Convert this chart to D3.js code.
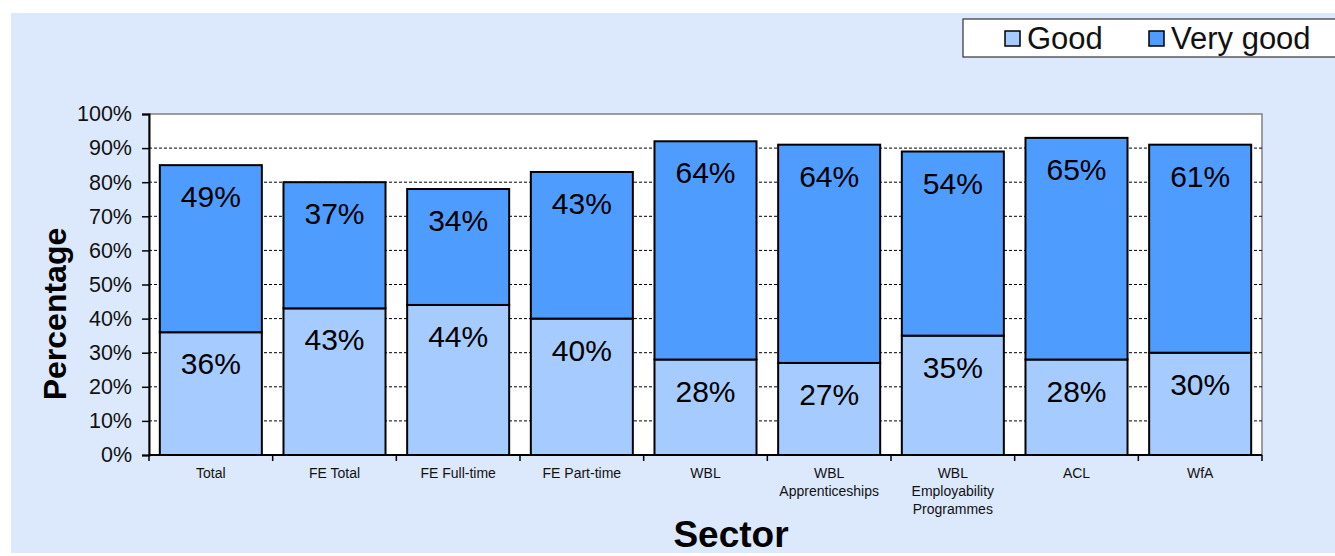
<!DOCTYPE html>
<html>
<head>
<meta charset="utf-8">
<script src="https://cdn.jsdelivr.net/npm/d3@7"></script>
<style>
    body { margin: 0; background: #fff; }
    text { font-family: "Liberation Sans", Arial, sans-serif; }
</style>
</head>
<body>
<div id="chart"></div>
<script>
// Chart data
const categories = ["Total", "FE Total", "FE Full-time", "FE Part-time", "WBL",
    "WBL Apprenticeships", "WBL Employability Programmes", "ACL", "WfA"];
const categoryLines = [["Total"], ["FE Total"], ["FE Full-time"], ["FE Part-time"], ["WBL"],
    ["WBL", "Apprenticeships"], ["WBL", "Employability", "Programmes"], ["ACL"], ["WfA"]];
const good = [36, 43, 44, 40, 28, 27, 35, 28, 30];
const veryGood = [49, 37, 34, 43, 64, 64, 54, 65, 61];
const yTicks = [0, 10, 20, 30, 40, 50, 60, 70, 80, 90, 100];
const seriesNames = ["Good", "Very good"];
const seriesColors = ["#a5cbff", "#4f9cff"];

const W = 1335, H = 556;
const plot = { left: 149, right: 1262, top: 114, bottom: 455 };

const svg = d3.select("#chart").append("svg")
    .attr("width", W)
    .attr("height", H);

// Background panel
svg.append("rect")
    .attr("x", 11).attr("y", 13)
    .attr("width", W - 11).attr("height", H - 16)
    .attr("fill", "#dce9fc");

const x = d3.scaleBand()
    .domain(categories)
    .range([plot.left, plot.right])
    .paddingInner(0.175)
    .paddingOuter(0.0875);

const y = d3.scaleLinear()
    .domain([0, 100])
    .range([plot.bottom, plot.top]);

// Plot area
svg.append("rect")
    .attr("x", plot.left).attr("y", plot.top)
    .attr("width", plot.right - plot.left)
    .attr("height", plot.bottom - plot.top)
    .attr("fill", "#fff")
    .attr("stroke", "#808080")
    .attr("stroke-width", 1.5);

// Gridlines
svg.append("g")
    .selectAll("line")
    .data(yTicks.filter(t => t > 0 && t < 100))
    .join("line")
    .attr("x1", plot.left).attr("x2", plot.right)
    .attr("y1", d => y(d)).attr("y2", d => y(d))
    .attr("stroke", "#000")
    .attr("stroke-width", 1)
    .attr("stroke-dasharray", "3,2");

// Stacked bars
const stackData = categories.map((c, i) => ({ cat: c, Good: good[i], "Very good": veryGood[i] }));
const stacked = d3.stack().keys(seriesNames)(stackData);

const layers = svg.append("g")
    .selectAll("g")
    .data(stacked)
    .join("g")
    .attr("fill", (d, i) => seriesColors[i]);

layers.selectAll("rect")
    .data(d => d)
    .join("rect")
    .attr("x", d => x(d.data.cat))
    .attr("y", d => y(d[1]))
    .attr("width", x.bandwidth())
    .attr("height", d => y(d[0]) - y(d[1]))
    .attr("stroke", "#000")
    .attr("stroke-width", 2);

// Value labels
layers.selectAll("text")
    .data(d => d)
    .join("text")
    .attr("x", d => x(d.data.cat) + x.bandwidth() / 2)
    .attr("y", d => y(d[1]) + 42)
    .attr("text-anchor", "middle")
    .attr("font-size", 30)
    .attr("fill", "#000")
    .text(d => (d[1] - d[0]) + "%");

// Y axis
const yAxis = svg.append("g")
    .attr("transform", `translate(${plot.left},0)`)
    .call(d3.axisLeft(y).tickValues(yTicks).tickFormat(d => d + "%").tickSize(7).tickPadding(10));
yAxis.select(".domain").attr("stroke", "#000").attr("stroke-width", 2);
yAxis.selectAll(".tick line").attr("stroke", "#000").attr("stroke-width", 1.5);
yAxis.selectAll("text").attr("font-size", 21.5).attr("fill", "#111")
    .style("font-family", "'Liberation Sans', Arial, sans-serif");

// X axis (ticks between categories)
svg.append("line")
    .attr("x1", plot.left).attr("x2", plot.right)
    .attr("y1", plot.bottom).attr("y2", plot.bottom)
    .attr("stroke", "#000").attr("stroke-width", 2);

const step = x.step();
svg.append("g")
    .selectAll("line")
    .data(d3.range(categories.length + 1))
    .join("line")
    .attr("x1", i => plot.left + i * step)
    .attr("x2", i => plot.left + i * step)
    .attr("y1", plot.bottom).attr("y2", plot.bottom + 6)
    .attr("stroke", "#000").attr("stroke-width", 1.5);

const catLabels = svg.append("g")
    .selectAll("text")
    .data(categories)
    .join("text")
    .attr("x", d => x(d) + x.bandwidth() / 2)
    .attr("y", plot.bottom + 23)
    .attr("text-anchor", "middle")
    .attr("font-size", 14)
    .attr("fill", "#111");

catLabels.selectAll("tspan")
    .data((d, i) => categoryLines[i])
    .join("tspan")
    .attr("x", function () { return this.parentNode.getAttribute("x"); })
    .attr("dy", (d, i) => i === 0 ? 0 : 18)
    .text(d => d);

// Axis titles
svg.append("text")
    .attr("transform", `translate(66,314) rotate(-90)`)
    .attr("text-anchor", "middle")
    .attr("font-size", 32)
    .attr("font-weight", "bold")
    .text("Percentage");

svg.append("text")
    .attr("x", 731)
    .attr("y", 547)
    .attr("text-anchor", "middle")
    .attr("font-size", 37)
    .attr("font-weight", "bold")
    .text("Sector");

// Legend
const legend = svg.append("g");
legend.append("rect")
    .attr("x", 963).attr("y", 19)
    .attr("width", 400).attr("height", 38)
    .attr("fill", "#fff")
    .attr("stroke", "#333")
    .attr("stroke-width", 1.2);

const legendX = [1005, 1149];
const items = legend.selectAll("g.item")
    .data(seriesNames)
    .join("g")
    .attr("class", "item")
    .attr("transform", (d, i) => `translate(${legendX[i]},31)`);

items.append("rect")
    .attr("width", 15).attr("height", 15)
    .attr("fill", (d, i) => seriesColors[i])
    .attr("stroke", "#000")
    .attr("stroke-width", 1.5);

items.append("text")
    .attr("x", 22)
    .attr("y", 18)
    .attr("font-size", 31)
    .attr("fill", "#111")
    .text(d => d);
</script>
</body>
</html>
